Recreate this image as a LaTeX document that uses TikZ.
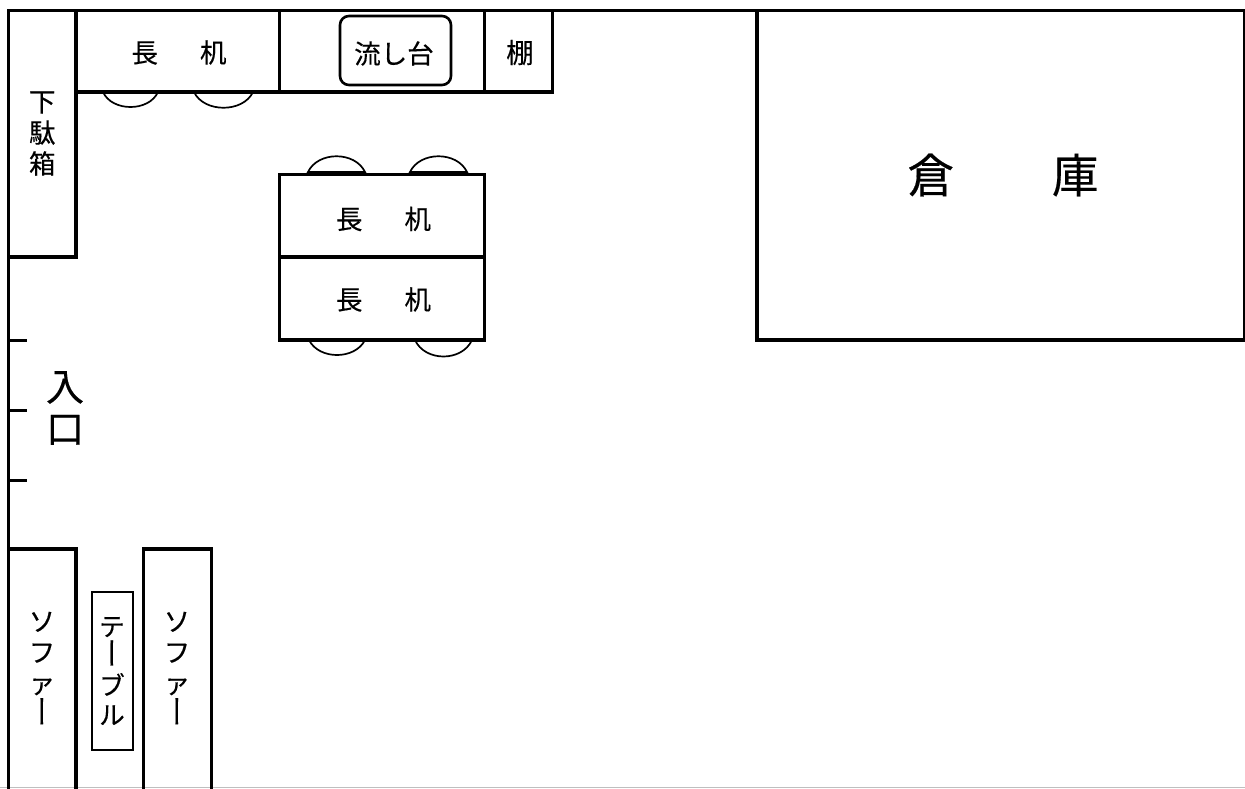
\documentclass[tikz,border=0pt]{standalone}
\usepackage{fontspec}
\setmainfont[FakeBold=0.35]{Noto Sans CJK JP}
\newfontfamily\vertfont[RawFeature=+vert,FakeBold=0.5]{Noto Sans CJK JP}
\newcommand{\txt}[2]{\fontsize{#1}{#2}\selectfont}
\newcommand{\cho}{\scalebox{1}[1.25]{\vertfont ー}}
\tikzset{
  wall/.style={line width=3.2pt,draw=black},
  furn/.style={rectangle,wall,inner sep=0pt,outer sep=0pt},
  lbl/.style={inner sep=0pt,outer sep=0pt,align=center,text=black,font=\txt{26.5}{31}},
  chair/.style={line width=1.7pt,draw=black},
  tick/.style={line width=3pt,draw=black}
}
\begin{document}
\begin{tikzpicture}[x=1pt,y=-1pt]
\useasboundingbox (0,0) rectangle (1245,788);
\fill[white] (0,0) rectangle (1245,788);
\draw[line width=1pt,black!25] (0,787.5) -- (1245,787.5);
% chairs
\draw[chair] (103,92) .. controls (112,112) and (149,112) .. (158,92);
\draw[chair] (194,92) .. controls (204,113) and (243,113) .. (253,92);
\draw[chair] (308,172) .. controls (318,151) and (355,151) .. (365,172) -- cycle;
\draw[chair] (410,172) .. controls (420,151) and (457,151) .. (467,172) -- cycle;
\draw[chair] (309,340) .. controls (319,360) and (355,360) .. (365,340);
\draw[chair] (415,340) .. controls (425,362) and (462,362) .. (472,340);
% outer wall
\draw[wall] (1246,10.5) -- (8.5,10.5) -- (8.5,790);
% furniture
\node[furn,minimum width=67.5pt,minimum height=246.5pt] (shoe) at (42.25,133.75) {};
\node[furn,minimum width=203.5pt,minimum height=81.5pt] (desk1) at (177.75,51.25) {};
\node[furn,minimum width=205pt,minimum height=81.5pt] (sink) at (382,51.25) {};
\node[furn,minimum width=68pt,minimum height=81.5pt] (shelf) at (518.5,51.25) {};
\node[furn,rounded corners=9pt,line width=2.6pt,minimum width=111pt,minimum height=69pt] (sinktop) at (395.5,50.5) {};
\node[furn,minimum width=205pt,minimum height=82.5pt] (desk2) at (382,216) {};
\node[furn,minimum width=205pt,minimum height=83pt] (desk3) at (382,298.5) {};
\node[furn,minimum width=488pt,minimum height=329.5pt] (store) at (1001,175.25) {};
\node[furn,minimum width=67.5pt,minimum height=242pt] (sofa1) at (42.25,670) {};
\node[furn,minimum width=68pt,minimum height=242pt] (sofa2) at (177.5,670) {};
\node[furn,line width=2.6pt,minimum width=41pt,minimum height=158pt] (table) at (112.5,671) {};
% texts
\node[lbl] (tshoe) at (42.25,133.5) {下\\駄\\箱};
\node[lbl] (tdesk1) at (179,52.5) {長\hspace{42pt}机};
\node[lbl] (tsink) at (394,53.5) {流し台};
\node[lbl,font=\txt{27.5}{31}] (tshelf) at (520,52.5) {棚};
\node[lbl] (tdesk2) at (383.5,219) {長\hspace{42pt}机};
\node[lbl] (tdesk3) at (383.5,299.5) {長\hspace{42pt}机};
\node[lbl,font=\txt{46.5}{50}] (tstore) at (1003,175) {倉\hspace{98pt}庫};
\node[lbl] (tsofa1) at (42,668) {ソ\\フ\\ァ\\\cho};
\node[lbl] (tsofa2) at (177,668) {ソ\\フ\\ァ\\\cho};
\node[lbl,font=\txt{25.5}{29.5}] (ttable) at (112,671) {テ\\\cho\\ブ\\ル};
\node[lbl,font=\txt{38}{42}] (entry) at (65,408) {入\\口};
% entrance marks
\coordinate (e1) at (8.5,340);
\coordinate (e2) at (8.5,410);
\coordinate (e3) at (8.5,480);
\draw[tick] (e1) -- ++(18.5,0);
\draw[tick] (e2) -- ++(18.5,0);
\draw[tick] (e3) -- ++(18.5,0);
\end{tikzpicture}
\end{document}
